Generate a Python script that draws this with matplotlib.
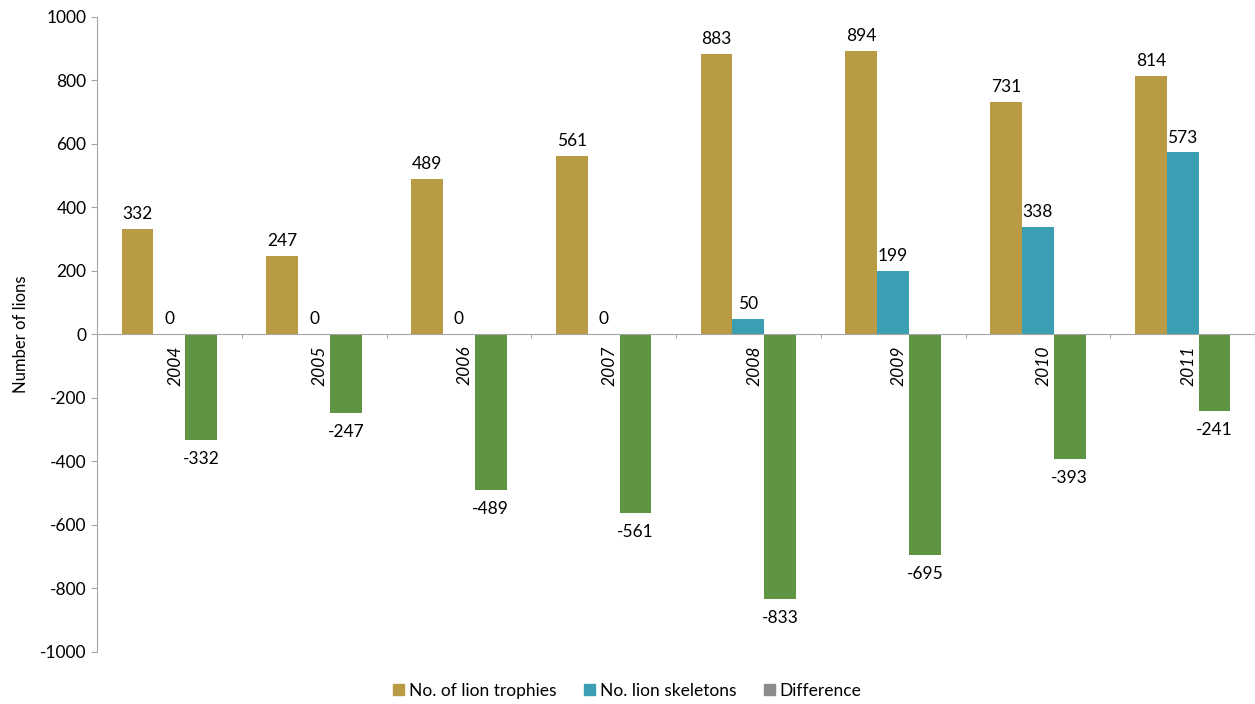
import numpy as np
import matplotlib.pyplot as plt
from matplotlib.patches import Patch

years = ['2004', '2005', '2006', '2007', '2008', '2009', '2010', '2011']
trophies = [332, 247, 489, 561, 883, 894, 731, 814]
skeletons = [0, 0, 0, 0, 50, 199, 338, 573]
difference = [-332, -247, -489, -561, -833, -695, -393, -241]

c_trophy = '#B99B45'
c_skel = '#3A9FB3'
c_diff = '#5F9443'
c_legdiff = '#8C8C8C'

plt.rcParams['font.family'] = ['Lato', 'DejaVu Sans']
plt.rcParams['font.size'] = 12
plt.rcParams['axes.unicode_minus'] = False

fig = plt.figure(figsize=(12.55, 7.04), dpi=100)
ax = fig.add_axes([0.0773, 0.074, 0.9227, 0.902])

x = np.arange(len(years))
w = 0.22
ax.bar(x - w, trophies, w, color=c_trophy)
ax.bar(x, skeletons, w, color=c_skel)
ax.bar(x + w, difference, w, color=c_diff)

# value labels
for i in range(len(years)):
    ax.annotate(str(trophies[i]), (x[i] - w, trophies[i]), xytext=(0, 5),
                textcoords='offset points', ha='center', va='bottom', fontsize=12.5)
    ax.annotate(str(skeletons[i]), (x[i], skeletons[i]), xytext=(0, 5),
                textcoords='offset points', ha='center', va='bottom', fontsize=12.5)
    ax.annotate(str(difference[i]), (x[i] + w, difference[i]), xytext=(0, -8),
                textcoords='offset points', ha='center', va='top', fontsize=12.5)
    # category labels under the zero line
    ax.annotate(years[i], (x[i] + 0.04, 0), xytext=(0, -8), textcoords='offset points',
                ha='center', va='top', rotation=90, style='italic', fontsize=12.5)

ax.set_xlim(-0.5, len(years) - 0.5)
ax.set_ylim(-1000, 1000)
ax.set_yticks(np.arange(-1000, 1001, 200))
ax.set_xticks(np.arange(-0.5, len(years) + 0.5, 1.0))
ax.set_xticklabels([])
ax.set_ylabel('Number of lions', fontsize=12, labelpad=8)

ax.spines['top'].set_visible(False)
ax.spines['right'].set_visible(False)
ax.spines['bottom'].set_position(('data', 0))
for s in ['left', 'bottom']:
    ax.spines[s].set_color('#A6A6A6')
ax.tick_params(axis='y', length=4, color='#A6A6A6', labelsize=12.5)
ax.tick_params(axis='x', length=3, color='#A6A6A6', direction='out')

handles = [Patch(color=c_trophy, label='No. of lion trophies'),
           Patch(color=c_skel, label='No. lion skeletons'),
           Patch(color=c_legdiff, label='Difference')]
fig.legend(handles=handles, loc='lower center', bbox_to_anchor=(0.5, -0.015), ncol=3,
           frameon=False, handlelength=0.6, handleheight=0.6, handletextpad=0.3,
           columnspacing=1.6, fontsize=12.5)

fig.savefig('out.png', dpi=100)
